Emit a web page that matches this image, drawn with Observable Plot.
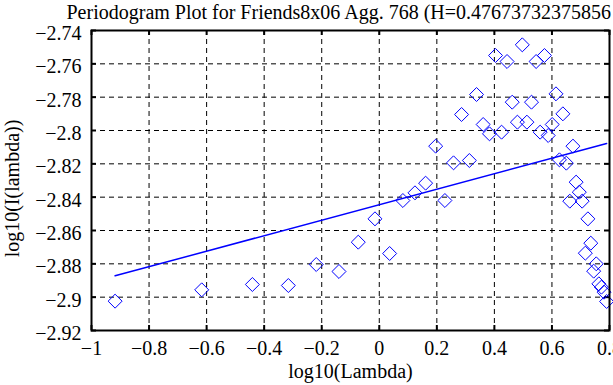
<!DOCTYPE html>
<html><head><meta charset="utf-8">
<script src="https://cdn.jsdelivr.net/npm/d3@7"></script>
<script src="https://cdn.jsdelivr.net/npm/@observablehq/plot@0.6"></script>
<style>
html,body{margin:0;padding:0;background:#fff;overflow:hidden;}
</style></head><body><div id="chart"></div>
<script>
const titleText = "Periodogram Plot for Friends8x06 Agg. 768 (H=0.47673732375856";
const xLabel = "log10(Lambda)";
const yLabel = "log10(I(lambda))";
const logLambda = [-0.918,-0.617,-0.441,-0.316,-0.219,-0.140,-0.073,-0.015,0.036,0.082,
  0.124,0.161,0.196,0.228,0.258,0.286,0.313,0.338,0.361,0.383,
  0.404,0.425,0.444,0.462,0.480,0.497,0.513,0.529,0.545,0.559,
  0.574,0.587,0.601,0.614,0.626,0.638,0.650,0.662,0.673,0.684,
  0.695,0.705,0.716,0.725,0.735,0.745,0.754,0.763,0.772,0.781,0.790];
const logI = [-2.9024,-2.8956,-2.8924,-2.8930,-2.8804,-2.8846,-2.8670,-2.8530,-2.8738,-2.8420,
  -2.8374,-2.8316,-2.8094,-2.8420,-2.8194,-2.7904,-2.8180,-2.7784,-2.7964,-2.8020,
  -2.7550,-2.8010,-2.7586,-2.7830,-2.7950,-2.7486,-2.7950,-2.7830,-2.7586,-2.8010,
  -2.7550,-2.8030,-2.7964,-2.7780,-2.8176,-2.7900,-2.8196,-2.8424,-2.8094,-2.8310,
  -2.8370,-2.8424,-2.8736,-2.8530,-2.8676,-2.8844,-2.8800,-2.8920,-2.8940,-2.8970,-2.9026];
const fitX = [-0.918, 0.790];
const fitY = [-2.8872, -2.8078];
const xTicks = [-1,-0.8,-0.6,-0.4,-0.2,0,0.2,0.4,0.6,0.8];
const yTicks = [-2.92,-2.9,-2.88,-2.86,-2.84,-2.82,-2.8,-2.78,-2.76,-2.74];
const xDomain = [-1, 0.8];
const yDomain = [-2.92, -2.74];

const fmt = v => String(+v.toFixed(2)).replace("-", "\u2212");
const points = logLambda.map((x, i) => ({x, y: logI[i]}));
const fit = fitX.map((x, i) => ({x, y: fitY[i]}));
const innerX = xTicks.slice(1, -1), innerY = yTicks.slice(1, -1);

const W = 613, H = 385, mL = 91, mR = 4, mT = 30, mB = 55;
const pw = W - mL - mR, ph = H - mT - mB;
const tk = 5;
const blue = "#0000ff";
const fs = 20;

const chart = Plot.plot({
  width: W, height: H,
  marginLeft: mL, marginRight: mR, marginTop: mT, marginBottom: mB,
  style: {fontFamily: "'Liberation Serif', 'Times New Roman', serif", fontSize: fs + "px", background: "white", color: "black", overflow: "visible"},
  x: {domain: xDomain, type: "linear"},
  y: {domain: yDomain, type: "linear"},
  marks: [
    Plot.ruleX(innerX, {stroke: "black", strokeWidth: 1, strokeDasharray: "5,4"}),
    Plot.ruleY(innerY, {stroke: "black", strokeWidth: 1, strokeDasharray: "5,4"}),
    Plot.ruleX(xTicks, {stroke: "black", strokeWidth: 2, insetTop: ph - tk}),
    Plot.ruleX(xTicks, {stroke: "black", strokeWidth: 2, insetBottom: ph - tk}),
    Plot.ruleY(yTicks, {stroke: "black", strokeWidth: 2, insetRight: pw - tk}),
    Plot.ruleY(yTicks, {stroke: "black", strokeWidth: 2, insetLeft: pw - tk}),
    Plot.dot(points, {x: "x", y: "y", symbol: "diamond2", r: 6.3, stroke: blue, strokeWidth: 1, fill: "none"}),
    Plot.line(fit, {x: "x", y: "y", stroke: blue, strokeWidth: 1.5}),
    Plot.frame({stroke: "black", strokeWidth: 2}),
    Plot.axisX(xTicks, {tickSize: 0, tickPadding: 10, tickFormat: fmt, label: null, fontSize: fs}),
    Plot.axisY(yTicks, {tickSize: 0, tickPadding: 10, tickFormat: fmt, label: null, dy: 3, fontSize: fs}),
    Plot.text([xLabel], {text: d => d, frameAnchor: "bottom", textAnchor: "middle", dy: 47, lineAnchor: "bottom", fontSize: fs}),
    Plot.text([yLabel], {text: d => d, frameAnchor: "left", textAnchor: "middle", rotate: -90, dx: -73, dy: 8, lineAnchor: "bottom", fontSize: fs}),
    Plot.text([titleText], {text: d => d, frameAnchor: "top-left", textAnchor: "start", dx: -25, dy: -12, lineAnchor: "bottom", fontSize: fs})
  ]
});
document.getElementById("chart").appendChild(chart);
</script></body></html>
